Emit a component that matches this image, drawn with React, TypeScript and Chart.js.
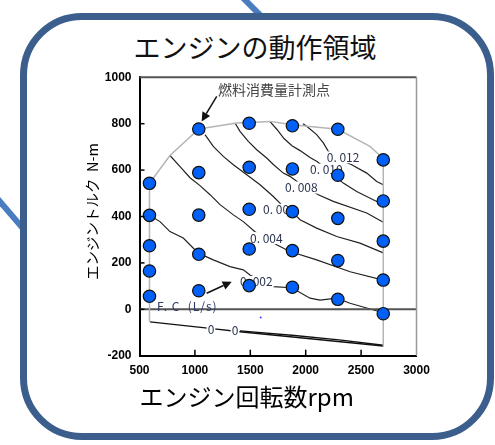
import React, { useEffect, useRef } from 'react';
import { Chart, registerables } from 'chart.js';

Chart.register(...registerables);

// ---- axes ----
const X_MIN = 500;
const X_MAX = 3000;
const X_STEP = 500;
const Y_MIN = -200;
const Y_MAX = 1000;
const Y_STEP = 200;

// ---- measurement points (rpm, N-m) ----
const POINT_LABEL = '燃料消費量計測点';
const POINT_RPM = [590, 590, 590, 590, 590, 1035, 1035, 1035, 1035, 1035, 1490, 1490, 1490, 1490, 1490, 1880, 1880, 1880, 1880, 1880, 2290, 2290, 2290, 2290, 2290, 2700, 2700, 2700, 2700, 2700];
const POINT_NM = [543, 405, 274, 165, 56, 777, 589, 406, 237, 80, 802, 612, 431, 260, 102, 791, 605, 421, 253, 95, 776, 578, 392, 210, 43, 644, 467, 294, 126, -19];

// ---- operating-range boundary (gray) ----
const BOUND_RPM = [590, 590, 775, 1035, 1377, 1490, 1678, 1880, 2290, 2580, 2700, 2700];
const BOUND_NM = [-54, 543, 663, 777, 803, 805, 810, 795, 776, 702, 650, -158];

// ---- fuel consumption contours (L/s) ----
const C002_RPM = [590, 685, 775, 895, 1031, 1166, 1317, 1437, 1497, 1705, 1874, 2039, 2129, 2280, 2400, 2700];
const C002_NM = [405, 378, 335, 307, 242, 213, 184, 170, 148, 98, 93, 48, 40, 48, 26, -15];
const C004_RPM = [775, 866, 956, 1046, 1137, 1227, 1347, 1437, 1542, 1738, 1858, 2099, 2401, 2700];
const C004_NM = [663, 615, 567, 533, 494, 451, 407, 378, 334, 278, 249, 213, 162, 126];
const C006_RPM = [1091, 1166, 1256, 1347, 1468, 1588, 1708, 1783, 1874, 1949, 2099, 2280, 2490, 2700];
const C006_NM = [753, 702, 659, 623, 580, 537, 486, 450, 421, 386, 350, 314, 285, 243];
const C008_RPM = [1362, 1407, 1482, 1558, 1648, 1708, 1798, 1858, 1949, 2114, 2249, 2551, 2700];
const C008_NM = [803, 767, 724, 688, 652, 624, 587, 573, 541, 494, 465, 415, 375];
const C010_RPM = [1678, 1741, 1804, 1876, 1949, 2039, 2102, 2219, 2339, 2460, 2641, 2700];
const C010_NM = [809, 775, 736, 705, 684, 654, 637, 593, 544, 508, 465, 459];
const C012_RPM = [1976, 2009, 2099, 2159, 2204, 2310, 2415, 2551, 2641, 2700];
const C012_NM = [800, 789, 753, 717, 681, 645, 623, 587, 551, 537];
const Z1_RPM = [595, 1136, 1407, 2700];
const Z1_NM = [-54, -82, -97, -158];
const Z2_RPM = [1407, 1900, 2300, 2700];
const Z2_NM = [-93, -113, -132, -155];
const AXIS0_RPM = [500, 3000];
const AXIS0_NM = [0, 0];
const STRAY_RPM = [1594];
const STRAY_NM = [-35];

// ---- contour labels ----
const LABEL_TEXT = ['0. 002', '0. 004', '0. 006', '0. 008', '0. 010', '0. 012', '0', '0'];
const LABEL_RPM = [1407, 1497, 1615, 1813, 2039, 2190, 1115, 1332];
const LABEL_NM = [118, 307, 429, 525, 602, 655, -85, -89];
const FC_TEXT = 'F. C  (L/s)';
const FC_RPM = 658;
const FC_NM = 11;
const CALLOUT_RPM = 1208;
const CALLOUT_NM = 947;
const ARROW1 = [1197, 918, 1061, 810];
const ARROW2 = [1106, 69, 1332, 119];

const X_TITLE = 'エンジン回転数rpm';
const Y_TITLE = '   エンジントルク  N-m';
const MAIN_TITLE = 'エンジンの動作領域';

const CJK = '"Noto Sans CJK JP", "Noto Sans", sans-serif';

const xy = (xs: number[], ys: number[]) => xs.map((x, i) => ({ x, y: ys[i] }));

const lineDs = (label: string, xs: number[], ys: number[], color: string, width: number) => ({
  label,
  data: xy(xs, ys),
  showLine: true,
  borderColor: color,
  borderWidth: width,
  pointRadius: 0,
  fill: false,
  tension: 0,
  order: 1,
});

function drawArrow(ctx: CanvasRenderingContext2D, x0: number, y0: number, x1: number, y1: number) {
  const a = Math.atan2(y1 - y0, x1 - x0);
  const L = 9;
  const W = 4.5;
  const bx = x1 - L * Math.cos(a);
  const by = y1 - L * Math.sin(a);
  ctx.beginPath();
  ctx.moveTo(x0, y0);
  ctx.lineTo(bx, by);
  ctx.stroke();
  ctx.beginPath();
  ctx.moveTo(x1, y1);
  ctx.lineTo(bx + W * Math.sin(a), by - W * Math.cos(a));
  ctx.lineTo(bx - W * Math.sin(a), by + W * Math.cos(a));
  ctx.closePath();
  ctx.fill();
}

const annotatePlugin = {
  id: 'annotate',
  beforeDatasetDraw(chart: any, args: any) {
    const ds = chart.data.datasets[args.index];
    if (ds.label !== POINT_LABEL) return;
    const { ctx } = chart;
    const xs = chart.scales.x;
    const ys = chart.scales.y;
    ctx.save();
    ctx.font = `12px ${CJK}`;
    ctx.textBaseline = 'middle';
    ctx.textAlign = 'left';
    LABEL_TEXT.forEach((t, i) => {
      const px = xs.getPixelForValue(LABEL_RPM[i]);
      const py = ys.getPixelForValue(LABEL_NM[i]);
      const w = ctx.measureText(t).width;
      ctx.fillStyle = '#ffffff';
      ctx.fillRect(px - 1, py - 6, w + 2, 12);
      ctx.fillStyle = '#2b3550';
      ctx.fillText(t, px, py);
    });
    ctx.letterSpacing = '1px';
    ctx.fillStyle = '#2b3a67';
    ctx.fillText(FC_TEXT, xs.getPixelForValue(FC_RPM), ys.getPixelForValue(FC_NM));
    ctx.restore();
  },
  afterDatasetsDraw(chart: any) {
    const { ctx, chartArea: area } = chart;
    const xs = chart.scales.x;
    const ys = chart.scales.y;
    ctx.save();
    // top and right frame
    ctx.strokeStyle = '#555';
    ctx.lineWidth = 2;
    ctx.beginPath();
    ctx.moveTo(area.left, area.top);
    ctx.lineTo(area.right, area.top);
    ctx.stroke();
    ctx.strokeStyle = '#999';
    ctx.lineWidth = 1.5;
    ctx.beginPath();
    ctx.moveTo(area.right, area.top);
    ctx.lineTo(area.right, area.bottom);
    ctx.stroke();
    // inner tick marks
    ctx.strokeStyle = '#000';
    ctx.lineWidth = 1.5;
    xs.ticks.forEach((t: any) => {
      if (t.value <= X_MIN || t.value >= X_MAX) return;
      const p = xs.getPixelForValue(t.value);
      ctx.beginPath();
      ctx.moveTo(p, area.bottom);
      ctx.lineTo(p, area.bottom - 6);
      ctx.stroke();
    });
    ys.ticks.forEach((t: any) => {
      if (t.value <= Y_MIN || t.value >= Y_MAX) return;
      const p = ys.getPixelForValue(t.value);
      ctx.beginPath();
      ctx.moveTo(area.left, p);
      ctx.lineTo(area.left + 5, p);
      ctx.stroke();
    });
    // callout
    ctx.font = `14px ${CJK}`;
    ctx.fillStyle = '#444';
    ctx.textBaseline = 'middle';
    ctx.textAlign = 'left';
    ctx.fillText(POINT_LABEL, xs.getPixelForValue(CALLOUT_RPM), ys.getPixelForValue(CALLOUT_NM));
    ctx.strokeStyle = '#111';
    ctx.fillStyle = '#111';
    ctx.lineWidth = 1.5;
    [ARROW1, ARROW2].forEach((a) => {
      drawArrow(
        ctx,
        xs.getPixelForValue(a[0]),
        ys.getPixelForValue(a[1]),
        xs.getPixelForValue(a[2]),
        ys.getPixelForValue(a[3])
      );
    });
    ctx.restore();
  },
};

const plainTick = (v: any) => String(v);

export default function App() {
  const ref = useRef<HTMLCanvasElement>(null);

  useEffect(() => {
    const canvas = ref.current;
    if (!canvas) return;
    const chart = new Chart(canvas, {
      type: 'scatter',
      data: {
        datasets: [
          {
            label: POINT_LABEL,
            data: xy(POINT_RPM, POINT_NM),
            pointRadius: 6.2,
            pointBorderWidth: 1.2,
            pointBorderColor: '#111',
            pointBackgroundColor: '#0060f8',
            order: 0,
          } as any,
          lineDs('boundary', BOUND_RPM, BOUND_NM, '#b5b5b5', 1.5),
          lineDs('zero', AXIS0_RPM, AXIS0_NM, '#555', 2),
          lineDs('0.002', C002_RPM, C002_NM, '#222', 1.2),
          lineDs('0.004', C004_RPM, C004_NM, '#222', 1.2),
          lineDs('0.006', C006_RPM, C006_NM, '#222', 1.2),
          lineDs('0.008', C008_RPM, C008_NM, '#222', 1.2),
          lineDs('0.010', C010_RPM, C010_NM, '#222', 1.2),
          lineDs('0.012', C012_RPM, C012_NM, '#222', 1.2),
          lineDs('0a', Z1_RPM, Z1_NM, '#111', 1.4),
          lineDs('0b', Z2_RPM, Z2_NM, '#111', 1.4),
          {
            label: 'stray',
            data: xy(STRAY_RPM, STRAY_NM),
            pointRadius: 1,
            pointBorderWidth: 0,
            pointBackgroundColor: '#3344ff',
            order: 1,
          } as any,
        ],
      },
      options: {
        responsive: false,
        animation: false,
        layout: { padding: { left: 0, right: 78.5, top: 77.3, bottom: 19.3 } },
        plugins: { legend: { display: false }, tooltip: { enabled: false }, title: { display: false } },
        scales: {
          x: {
            type: 'linear',
            min: X_MIN,
            max: X_MAX,
            grid: { display: false, drawTicks: false },
            border: { display: true, color: '#000', width: 2 },
            ticks: {
              stepSize: X_STEP,
              padding: 8,
              color: '#000',
              callback: plainTick,
              font: { family: 'Liberation Sans', size: 12, weight: 'bold' },
            },
            title: {
              display: true,
              text: X_TITLE,
              align: 'start',
              color: '#000',
              font: { family: CJK, size: 24 },
              padding: { top: 0, bottom: 14 },
            },
            afterFit: (s: any) => {
              s.height = 70;
            },
          },
          y: {
            type: 'linear',
            min: Y_MIN,
            max: Y_MAX,
            grid: { display: false, drawTicks: false },
            border: { display: true, color: '#000', width: 2 },
            ticks: {
              stepSize: Y_STEP,
              padding: 8,
              color: '#000',
              callback: plainTick,
              font: { family: 'Liberation Sans', size: 12, weight: 'bold' },
            },
            title: {
              display: true,
              text: Y_TITLE,
              color: '#000',
              font: { family: CJK, size: 14.5 },
              padding: { top: 84, bottom: 0 },
            },
            afterFit: (s: any) => {
              s.width = 139.5;
            },
          },
        },
      } as any,
      plugins: [annotatePlugin],
    });
    return () => chart.destroy();
  }, []);

  return (
    <div style={{ position: 'absolute', left: 0, top: 0, width: 495, height: 445, overflow: 'hidden', background: '#fff' }}>
      <div
        style={{
          position: 'absolute',
          left: 251.5 - 2.75,
          top: 6.5 - 23,
          width: 5.5,
          height: 46,
          background: '#4a7cc0',
          transform: 'rotate(-45deg)',
        }}
      />
      <div
        style={{
          position: 'absolute',
          left: 7.5 - 2.75,
          top: 210.5 - 27,
          width: 5.5,
          height: 54,
          background: '#4a7cc0',
          transform: 'rotate(-40.5deg)',
        }}
      />
      <div
        style={{
          position: 'absolute',
          left: 20,
          top: 13,
          width: 474,
          height: 427,
          boxSizing: 'border-box',
          border: '7px solid #3b5e8c',
          borderRadius: 62,
          background: '#fff',
        }}
      />
      <div
        style={{
          position: 'absolute',
          left: 0,
          top: 30,
          width: 510,
          textAlign: 'center',
          fontFamily: CJK,
          fontSize: 27,
          lineHeight: '34px',
          color: '#111',
        }}
      >
        {MAIN_TITLE}
      </div>
      <canvas ref={ref} width={495} height={445} style={{ position: 'absolute', left: 0, top: 0 }} />
    </div>
  );
}
